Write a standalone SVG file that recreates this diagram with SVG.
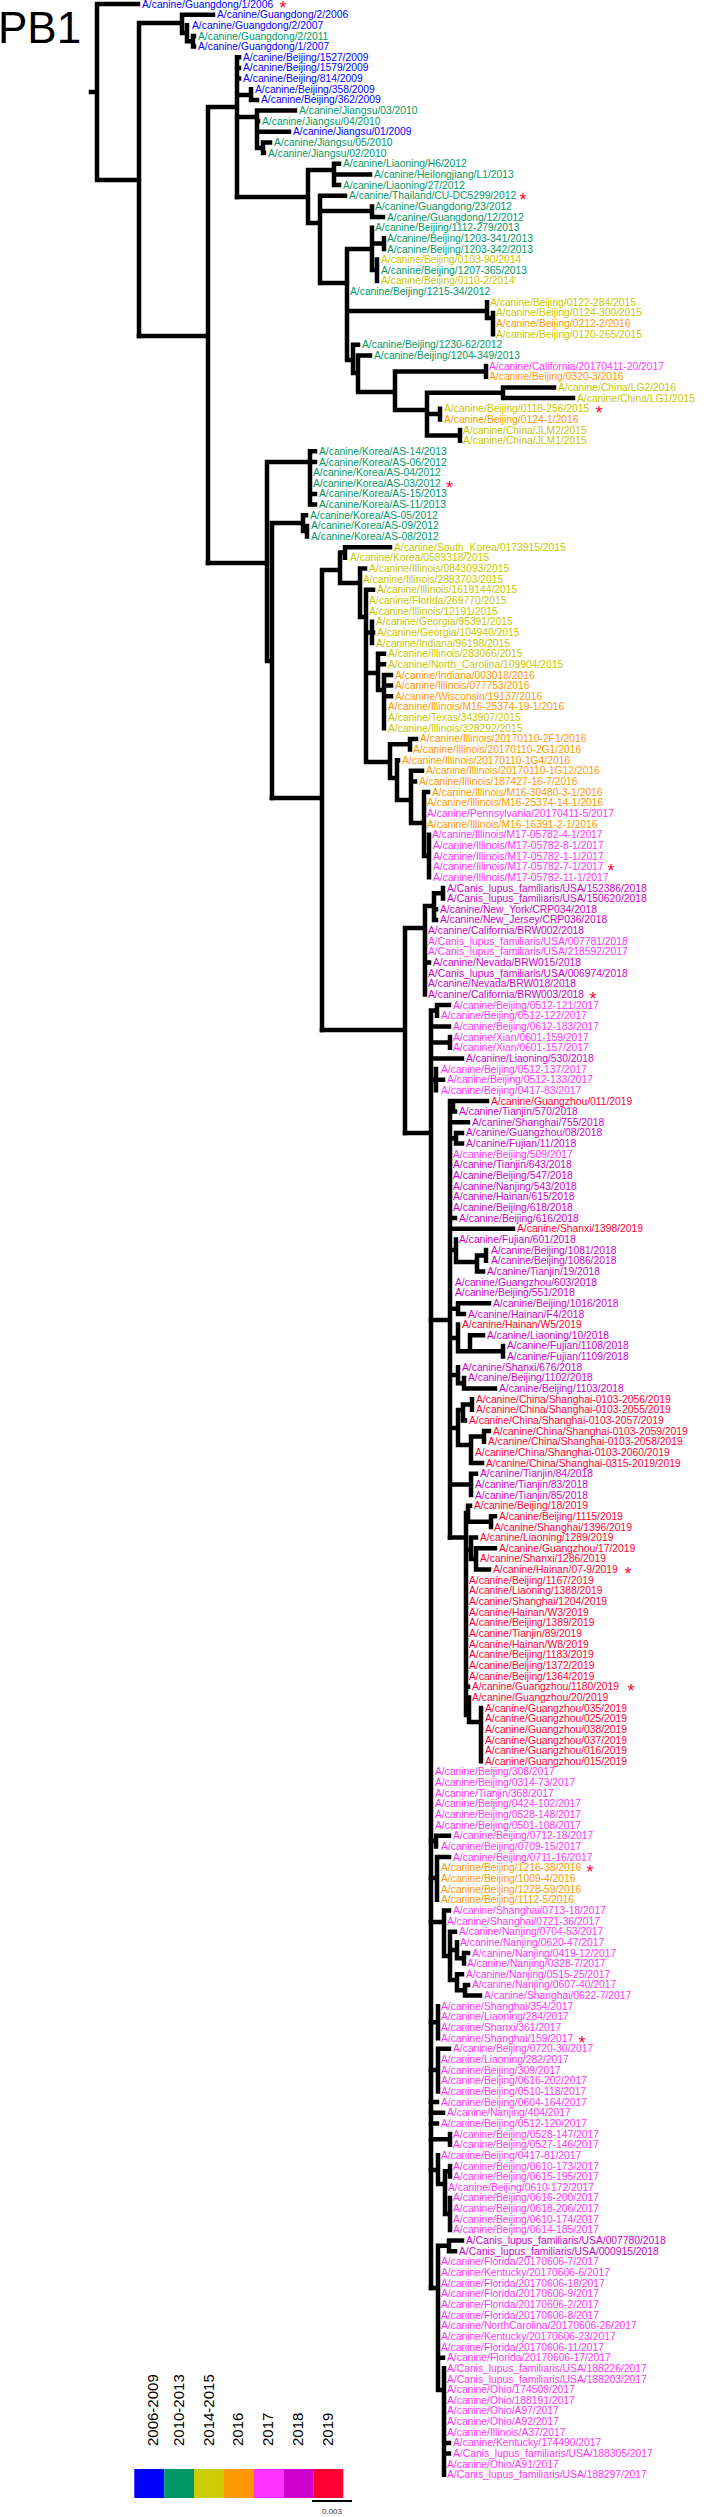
<svg xmlns="http://www.w3.org/2000/svg" width="714" height="2517" viewBox="0 0 714 2517">
<style>
text{font-family:"Liberation Sans",Arial,sans-serif}
.l{font-size:10.3px;dominant-baseline:central}
.c1{fill:#0000ff}.c2{fill:#009966}.c3{fill:#c8c800}.c4{fill:#ff9900}.c5{fill:#ff33ff}.c6{fill:#cc00cc}.c7{fill:#ff0033}
.st{font-size:18px;fill:#ff0033;text-anchor:middle}
.lg{font-size:15px;fill:#000}
#branches path{fill:none;stroke:#000;stroke-width:4.5;stroke-linecap:square}
</style>
<rect width="714" height="2517" fill="#fff"/>
<text x="-2" y="43" font-size="44" fill="#000">PB1</text>
<g id="branches">
<path d="M91 92H97M97 4V180M97 4H138M97 180H139M139 23V336M139 23H182M182 14.7V33M182 14.7H213M182 33H187M187 25.3V41.3M187 41.3H193M193 36V46.6M193 36H194M193 46.6H194"/>
<path d="M139 336H208M208 107V563M208 107H237M237 57.3V197M237 57.3H239M237 67.9H239M237 78.6H239M237 95H251M251 89.2V99.9M251 99.9H257M237 117H257M257 110.5V148M257 110.5H295M257 121.2H258M257 131.8H289M257 148H263M263 142.5V153.1M263 142.5H270M263 153.1H264"/>
<path d="M237 197H308M308 170V223M308 170H334M334 163.8V185.1M334 163.8H339M334 174.4H370M334 185.1H339M308 223H320M320 195.7V283M320 195.7H345M320 211H372M372 206.4V217M372 217H383M320 283H347M347 249V360M347 249H372M372 227.7V270M372 243.6H384M384 238.3V249M372 270H377M377 259.6V280.9M347 311H487M487 302.2V318M487 318H493M493 312.9V334.2M347 360H353M353 344.8V373M353 344.8H358M353 373H358M358 355.5V392M358 355.5H370M358 392H395M395 371.5V410M395 371.5H486M486 366.1V376.8M395 410H427M427 392.8V435.4M427 392.8H503M503 387.4V398.1M503 387.4H554M503 398.1H573M427 414H440M440 408.7V419.4M427 435.4H460M460 430V440.7"/>
<path d="M208 563H267M267 462V661M267 462H310M310 451.3V504.6M310 451.3H315M310 462H315M310 493.9H315M310 504.6H315M267 661H272M272 523V798M272 523H303M303 515.2V531M303 515.2H306M303 531H307M307 525.9V536.5"/>
<path d="M272 798H322M322 570V1030M322 570H340M340 552.5V583M340 552.5H345M345 547.2V557.8M345 547.2H390M340 583H360M360 568.5V617M360 568.5H365M360 617H366M366 589.8V762M366 589.8H373M366 632.4H372M372 621.7V643M372 632.4H373M366 673H378M378 653.7V690M378 653.7H384M378 664.3H384M378 690H384M384 675V728.2M384 675H391M384 685.6H391M384 696.3H391M366 762H390M390 744.2V778M390 744.2H410M410 738.9V749.5M410 738.9H416M390 778H397M397 760.2V800M397 760.2H398M397 800H411M411 770.8V823M411 770.8H422M411 781.5H415M411 823H424M424 792.1V856M424 792.1H428M424 856H429M429 834.7V877.3"/>
<path d="M322 1030H405M405 928V1133M405 928H425M425 906V994.5M425 906H434M434 893.3V919.9M434 893.3H443M443 888V898.6M434 909.3H436M434 919.9H436M425 962.5H429"/>
<path d="M405 1133H431M431 1010.5V2288M431 1010.5H437M437 1005.1V1015.8M437 1005.1H449M431 1026.4H449M431 1042.4H450M450 1037.1V1047.7M431 1058.4H462M431 1079.7H436M436 1069V1090.3M436 1079.7H443"/>
<path d="M431 1320H450M450 1101V1537.6M450 1106.3H453M453 1101V1111.6M453 1101H487M453 1111.6H455M450 1122.3H468M450 1138.3H456M456 1132.9V1143.6M456 1132.9H462M456 1143.6H462M450 1218.1H455M450 1228.8H513M450 1250H456M456 1239.4V1262M456 1262H477M477 1255.4V1271.4M477 1255.4H486M486 1250.1V1260.7M477 1271.4H483M450 1308.7H458M458 1303.3V1314M458 1303.3H489M458 1314H464M450 1338H458M458 1324.6V1351.3M458 1351.3H470M470 1335.3V1351.3M470 1335.3H483M470 1351.3H503M503 1345.9V1356.6M450 1375H458M458 1367.2V1383.2M458 1383.2H464M464 1377.9V1388.5M464 1388.5H495M450 1428H458M458 1410V1445M458 1410H463M463 1404.5V1420.5M463 1404.5H472M472 1399.2V1409.8M463 1420.5H465M458 1445H471M471 1436.5V1463.1M471 1436.5H484M484 1431.1V1441.8M484 1431.1H489M471 1463.1H482M450 1484.4H471M471 1473.7V1495M471 1473.7H476"/>
<path d="M450 1537.6H466M466 1513V1715M466 1513H468M468 1505.7V1521.7M468 1505.7H470M468 1521.7H491M491 1516.3V1527M491 1516.3H495M466 1550H471M471 1537.6V1559M471 1537.6H476M471 1559H476M476 1548.3V1569.6M476 1548.3H495M476 1569.6H489M466 1686.7H468M466 1715H469M469 1697.4V1722M469 1722H481M481 1708V1761.3"/>
<path d="M431 1841H436M436 1835.8V1846.5M436 1835.8H449M431 1878H437M437 1857.1V1899.7M437 1857.1H449M431 1922H444M444 1910.4V1956M444 1910.4H449M444 1956H450M450 1931.7V1980M450 1931.7H455M450 1950H457M457 1942.3V1958.3M457 1958.3H464M464 1953V1963.6M464 1953H468M450 1980H457M457 1974.3V1990.3M457 1974.3H462M457 1990.3H465M465 1984.9V1995.6M465 1984.9H468M465 1995.6H480M431 2022.2H438M438 2006.2V2038.2M431 2070H438M438 2048.8V2091.4M438 2048.8H449M431 2102.1H437M431 2112.7H443M431 2123.4H437M431 2139.3H450M450 2134V2144.7M431 2170H438M438 2155.3V2184M438 2184H445M445 2171.3V2214M445 2171.3H450M450 2166V2176.6M445 2214H450M450 2197.9V2229.9M431 2288H438M438 2245.8V2390M438 2245.8H449M449 2240.5V2251.2M449 2240.5H462M449 2251.2H455M438 2357.7H443M438 2390H444M444 2368.3V2474.8M444 2442.9H449M444 2453.5H449"/>
</g>
<g id="n1"><text class="l c1" x="142" y="4">A/canine/Guangdong/1/2006</text><text class="st" x="283" y="14.3">*</text></g>
<g id="n2"><text class="l c1" x="217" y="14.7">A/canine/Guangdong/2/2006</text></g>
<g id="n3"><text class="l c1" x="192" y="25.3">A/canine/Guangdong/2/2007</text></g>
<g id="n4"><text class="l c2" x="198" y="36">A/canine/Guangdong/2/2011</text></g>
<g id="n5"><text class="l c1" x="198" y="46.6">A/canine/Guangdong/1/2007</text></g>
<g id="n6"><text class="l c1" x="243" y="57.3">A/canine/Beijing/1527/2009</text></g>
<g id="n7"><text class="l c1" x="243" y="67.9">A/canine/Beijing/1579/2009</text></g>
<g id="n8"><text class="l c1" x="243" y="78.6">A/canine/Beijing/814/2009</text></g>
<g id="n9"><text class="l c1" x="255" y="89.2">A/canine/Beijing/358/2009</text></g>
<g id="n10"><text class="l c1" x="261" y="99.9">A/canine/Beijing/362/2009</text></g>
<g id="n11"><text class="l c2" x="299" y="110.5">A/canine/Jiangsu/03/2010</text></g>
<g id="n12"><text class="l c2" x="262" y="121.2">A/canine/Jiangsu/04/2010</text></g>
<g id="n13"><text class="l c1" x="293" y="131.8">A/canine/Jiangsu/01/2009</text></g>
<g id="n14"><text class="l c2" x="274" y="142.5">A/canine/Jiangsu/05/2010</text></g>
<g id="n15"><text class="l c2" x="268" y="153.1">A/canine/Jiangsu/02/2010</text></g>
<g id="n16"><text class="l c2" x="343" y="163.8">A/canine/Liaoning/H6/2012</text></g>
<g id="n17"><text class="l c2" x="374" y="174.4">A/canine/Heilongjiang/L1/2013</text></g>
<g id="n18"><text class="l c2" x="343" y="185.1">A/canine/Liaoning/27/2012</text></g>
<g id="n19"><text class="l c2" x="349" y="195.7">A/canine/Thailand/CU-DC5299/2012</text><text class="st" x="523" y="206">*</text></g>
<g id="n20"><text class="l c2" x="375" y="206.4">A/canine/Guangdong/23/2012</text></g>
<g id="n21"><text class="l c2" x="387" y="217">A/canine/Guangdong/12/2012</text></g>
<g id="n22"><text class="l c2" x="375" y="227.7">A/canine/Beijing/1112-279/2013</text></g>
<g id="n23"><text class="l c2" x="387" y="238.3">A/canine/Beijing/1203-341/2013</text></g>
<g id="n24"><text class="l c2" x="387" y="249">A/canine/Beijing/1203-342/2013</text></g>
<g id="n25"><text class="l c3" x="381" y="259.6">A/canine/Beijing/0103-90/2014</text></g>
<g id="n26"><text class="l c2" x="381" y="270.3">A/canine/Beijing/1207-365/2013</text></g>
<g id="n27"><text class="l c3" x="381" y="280.9">A/canine/Beijing/0110-2/2014</text></g>
<g id="n28"><text class="l c2" x="350" y="291.6">A/canine/Beijing/1215-34/2012</text></g>
<g id="n29"><text class="l c3" x="490" y="302.2">A/canine/Beijing/0122-284/2015</text></g>
<g id="n30"><text class="l c3" x="496" y="312.9">A/canine/Beijing/0124-300/2015</text></g>
<g id="n31"><text class="l c4" x="496" y="323.5">A/canine/Beijing/0212-2/2016</text></g>
<g id="n32"><text class="l c3" x="496" y="334.2">A/canine/Beijing/0120-265/2015</text></g>
<g id="n33"><text class="l c2" x="362" y="344.8">A/canine/Beijing/1230-62/2012</text></g>
<g id="n34"><text class="l c2" x="374" y="355.5">A/canine/Beijing/1204-349/2013</text></g>
<g id="n35"><text class="l c5" x="489" y="366.1">A/canine/California/20170411-20/2017</text></g>
<g id="n36"><text class="l c4" x="489" y="376.8">A/canine/Beijing/0320-3/2016</text></g>
<g id="n37"><text class="l c3" x="558" y="387.4">A/canine/China/LG2/2016</text></g>
<g id="n38"><text class="l c3" x="577" y="398.1">A/canine/China/LG1/2015</text></g>
<g id="n39"><text class="l c3" x="444" y="408.7">A/canine/Beijing/0118-256/2015</text><text class="st" x="599" y="419">*</text></g>
<g id="n40"><text class="l c4" x="444" y="419.4">A/canine/Beijing/0124-1/2016</text></g>
<g id="n41"><text class="l c3" x="463" y="430">A/canine/China/JLM2/2015</text></g>
<g id="n42"><text class="l c3" x="463" y="440.7">A/canine/China/JLM1/2015</text></g>
<g id="n43"><text class="l c2" x="319" y="451.3">A/canine/Korea/AS-14/2013</text></g>
<g id="n44"><text class="l c2" x="319" y="462">A/canine/Korea/AS-06/2012</text></g>
<g id="n45"><text class="l c2" x="313" y="472.6">A/canine/Korea/AS-04/2012</text></g>
<g id="n46"><text class="l c2" x="313" y="483.3">A/canine/Korea/AS-03/2012</text><text class="st" x="449.5" y="493.6">*</text></g>
<g id="n47"><text class="l c2" x="319" y="493.9">A/canine/Korea/AS-15/2013</text></g>
<g id="n48"><text class="l c2" x="319" y="504.6">A/canine/Korea/AS-11/2013</text></g>
<g id="n49"><text class="l c2" x="310" y="515.2">A/canine/Korea/AS-05/2012</text></g>
<g id="n50"><text class="l c2" x="311" y="525.9">A/canine/Korea/AS-09/2012</text></g>
<g id="n51"><text class="l c2" x="311" y="536.5">A/canine/Korea/AS-08/2012</text></g>
<g id="n52"><text class="l c3" x="394" y="547.2">A/canine/South_Korea/0173915/2015</text></g>
<g id="n53"><text class="l c3" x="350" y="557.8">A/canine/Korea/0589318/2015</text></g>
<g id="n54"><text class="l c3" x="369" y="568.5">A/canine/Illinois/0843093/2015</text></g>
<g id="n55"><text class="l c3" x="363" y="579.1">A/canine/Illinois/2883703/2015</text></g>
<g id="n56"><text class="l c3" x="377" y="589.8">A/canine/Illinois/1619144/2015</text></g>
<g id="n57"><text class="l c3" x="369" y="600.4">A/canine/Florida/269770/2015</text></g>
<g id="n58"><text class="l c3" x="369" y="611.1">A/canine/Illinois/12191/2015</text></g>
<g id="n59"><text class="l c3" x="376" y="621.7">A/canine/Georgia/95391/2015</text></g>
<g id="n60"><text class="l c3" x="377" y="632.4">A/canine/Georgia/104940/2015</text></g>
<g id="n61"><text class="l c3" x="376" y="643">A/canine/Indiana/96198/2015</text></g>
<g id="n62"><text class="l c3" x="388" y="653.7">A/canine/Illinois/283066/2015</text></g>
<g id="n63"><text class="l c3" x="388" y="664.3">A/canine/North_Carolina/109904/2015</text></g>
<g id="n64"><text class="l c4" x="395" y="675">A/canine/Indiana/003018/2016</text></g>
<g id="n65"><text class="l c4" x="395" y="685.6">A/canine/Illinois/077753/2016</text></g>
<g id="n66"><text class="l c4" x="395" y="696.3">A/canine/Wisconsin/19137/2016</text></g>
<g id="n67"><text class="l c4" x="388" y="706.9">A/canine/Illinois/M16-25374-19-1/2016</text></g>
<g id="n68"><text class="l c3" x="388" y="717.6">A/canine/Texas/343907/2015</text></g>
<g id="n69"><text class="l c3" x="388" y="728.2">A/canine/Illinois/328292/2015</text></g>
<g id="n70"><text class="l c4" x="420" y="738.9">A/canine/Illinois/20170110-2F1/2016</text></g>
<g id="n71"><text class="l c4" x="413" y="749.5">A/canine/Illinois/20170110-2G1/2016</text></g>
<g id="n72"><text class="l c4" x="402" y="760.2">A/canine/Illinois/20170110-1G4/2016</text></g>
<g id="n73"><text class="l c4" x="426" y="770.8">A/canine/Illinois/20170110-1G12/2016</text></g>
<g id="n74"><text class="l c4" x="419" y="781.5">A/canine/Illinois/187427-16-7/2016</text></g>
<g id="n75"><text class="l c4" x="432" y="792.1">A/canine/Illinois/M16-30480-3-1/2016</text></g>
<g id="n76"><text class="l c4" x="427" y="802.8">A/canine/Illinois/M16-25374-14-1/2016</text></g>
<g id="n77"><text class="l c5" x="427" y="813.4">A/canine/Pennsylvania/20170411-5/2017</text></g>
<g id="n78"><text class="l c4" x="427" y="824.1">A/canine/Illinois/M16-16391-2-1/2016</text></g>
<g id="n79"><text class="l c5" x="432" y="834.7">A/canine/Illinois/M17-05782-4-1/2017</text></g>
<g id="n80"><text class="l c5" x="433" y="845.4">A/canine/Illinois/M17-05782-8-1/2017</text></g>
<g id="n81"><text class="l c5" x="433" y="856">A/canine/Illinois/M17-05782-1-1/2017</text></g>
<g id="n82"><text class="l c5" x="433" y="866.7">A/canine/Illinois/M17-05782-7-1/2017</text><text class="st" x="611" y="877">*</text></g>
<g id="n83"><text class="l c5" x="433" y="877.3">A/canine/Illinois/M17-05782-11-1/2017</text></g>
<g id="n84"><text class="l c6" x="447" y="888">A/Canis_lupus_familiaris/USA/152386/2018</text></g>
<g id="n85"><text class="l c6" x="447" y="898.6">A/Canis_lupus_familiaris/USA/150620/2018</text></g>
<g id="n86"><text class="l c6" x="440" y="909.3">A/canine/New_York/CRP034/2018</text></g>
<g id="n87"><text class="l c6" x="440" y="919.9">A/canine/New_Jersey/CRP036/2018</text></g>
<g id="n88"><text class="l c6" x="428" y="930.6">A/canine/California/BRW002/2018</text></g>
<g id="n89"><text class="l c5" x="428" y="941.2">A/Canis_lupus_familiaris/USA/007781/2018</text></g>
<g id="n90"><text class="l c5" x="428" y="951.9">A/Canis_lupus_familiaris/USA/218592/2017</text></g>
<g id="n91"><text class="l c6" x="433" y="962.5">A/canine/Nevada/BRW015/2018</text></g>
<g id="n92"><text class="l c6" x="428" y="973.2">A/Canis_lupus_familiaris/USA/006974/2018</text></g>
<g id="n93"><text class="l c6" x="428" y="983.8">A/canine/Nevada/BRW018/2018</text></g>
<g id="n94"><text class="l c6" x="428" y="994.5">A/canine/California/BRW003/2018</text><text class="st" x="593" y="1004.8">*</text></g>
<g id="n95"><text class="l c5" x="453" y="1005.1">A/canine/Beijing/0512-121/2017</text></g>
<g id="n96"><text class="l c5" x="441" y="1015.8">A/canine/Beijing/0512-122/2017</text></g>
<g id="n97"><text class="l c5" x="453" y="1026.4">A/canine/Beijing/0612-183/2017</text></g>
<g id="n98"><text class="l c5" x="453" y="1037.1">A/canine/Xian/0601-159/2017</text></g>
<g id="n99"><text class="l c5" x="453" y="1047.7">A/canine/Xian/0601-157/2017</text></g>
<g id="n100"><text class="l c6" x="466" y="1058.4">A/canine/Liaoning/530/2018</text></g>
<g id="n101"><text class="l c5" x="441" y="1069">A/canine/Beijing/0512-137/2017</text></g>
<g id="n102"><text class="l c5" x="447" y="1079.7">A/canine/Beijing/0512-133/2017</text></g>
<g id="n103"><text class="l c5" x="441" y="1090.3">A/canine/Beijing/0417-83/2017</text></g>
<g id="n104"><text class="l c7" x="491" y="1101">A/canine/Guangzhou/011/2019</text></g>
<g id="n105"><text class="l c6" x="459" y="1111.6">A/canine/Tianjin/570/2018</text></g>
<g id="n106"><text class="l c6" x="472" y="1122.3">A/canine/Shanghai/755/2018</text></g>
<g id="n107"><text class="l c6" x="466" y="1132.9">A/canine/Guangzhou/08/2018</text></g>
<g id="n108"><text class="l c6" x="466" y="1143.6">A/canine/Fujian/11/2018</text></g>
<g id="n109"><text class="l c5" x="453" y="1154.2">A/canine/Beijing/509/2017</text></g>
<g id="n110"><text class="l c6" x="453" y="1164.9">A/canine/Tianjin/643/2018</text></g>
<g id="n111"><text class="l c6" x="453" y="1175.5">A/canine/Beijing/547/2018</text></g>
<g id="n112"><text class="l c6" x="453" y="1186.2">A/canine/Nanjing/543/2018</text></g>
<g id="n113"><text class="l c6" x="453" y="1196.8">A/canine/Hainan/615/2018</text></g>
<g id="n114"><text class="l c6" x="453" y="1207.5">A/canine/Beijing/618/2018</text></g>
<g id="n115"><text class="l c6" x="459" y="1218.1">A/canine/Beijing/616/2018</text></g>
<g id="n116"><text class="l c7" x="517" y="1228.8">A/canine/Shanxi/1398/2019</text></g>
<g id="n117"><text class="l c6" x="459" y="1239.4">A/canine/Fujian/601/2018</text></g>
<g id="n118"><text class="l c6" x="491" y="1250.1">A/canine/Beijing/1081/2018</text></g>
<g id="n119"><text class="l c6" x="491" y="1260.7">A/canine/Beijing/1086/2018</text></g>
<g id="n120"><text class="l c6" x="487" y="1271.4">A/canine/Tianjin/19/2018</text></g>
<g id="n121"><text class="l c6" x="455" y="1282">A/canine/Guangzhou/603/2018</text></g>
<g id="n122"><text class="l c6" x="455" y="1292.7">A/canine/Beijing/551/2018</text></g>
<g id="n123"><text class="l c6" x="493" y="1303.3">A/canine/Beijing/1016/2018</text></g>
<g id="n124"><text class="l c6" x="468" y="1314">A/canine/Hainan/F4/2018</text></g>
<g id="n125"><text class="l c7" x="462" y="1324.6">A/canine/Hainan/W5/2019</text></g>
<g id="n126"><text class="l c6" x="487" y="1335.3">A/canine/Liaoning/10/2018</text></g>
<g id="n127"><text class="l c6" x="507" y="1345.9">A/canine/Fujian/1108/2018</text></g>
<g id="n128"><text class="l c6" x="507" y="1356.6">A/canine/Fujian/1109/2018</text></g>
<g id="n129"><text class="l c6" x="462" y="1367.2">A/canine/Shanxi/676/2018</text></g>
<g id="n130"><text class="l c6" x="468" y="1377.9">A/canine/Beijing/1102/2018</text></g>
<g id="n131"><text class="l c6" x="499" y="1388.5">A/canine/Beijing/1103/2018</text></g>
<g id="n132"><text class="l c7" x="476" y="1399.2">A/canine/China/Shanghai-0103-2056/2019</text></g>
<g id="n133"><text class="l c7" x="476" y="1409.8">A/canine/China/Shanghai-0103-2055/2019</text></g>
<g id="n134"><text class="l c7" x="469" y="1420.5">A/canine/China/Shanghai-0103-2057/2019</text></g>
<g id="n135"><text class="l c7" x="493" y="1431.1">A/canine/China/Shanghai-0103-2059/2019</text></g>
<g id="n136"><text class="l c7" x="488" y="1441.8">A/canine/China/Shanghai-0103-2058/2019</text></g>
<g id="n137"><text class="l c7" x="475" y="1452.4">A/canine/China/Shanghai-0103-2060/2019</text></g>
<g id="n138"><text class="l c7" x="486" y="1463.1">A/canine/China/Shanghai-0315-2019/2019</text></g>
<g id="n139"><text class="l c6" x="480" y="1473.7">A/canine/Tianjin/84/2018</text></g>
<g id="n140"><text class="l c6" x="475" y="1484.4">A/canine/Tianjin/83/2018</text></g>
<g id="n141"><text class="l c6" x="475" y="1495">A/canine/Tianjin/85/2018</text></g>
<g id="n142"><text class="l c7" x="474" y="1505.7">A/canine/Beijing/18/2019</text></g>
<g id="n143"><text class="l c7" x="499" y="1516.3">A/canine/Beijing/1115/2019</text></g>
<g id="n144"><text class="l c7" x="494" y="1527">A/canine/Shanghai/1396/2019</text></g>
<g id="n145"><text class="l c7" x="480" y="1537.6">A/canine/Liaoning/1289/2019</text></g>
<g id="n146"><text class="l c7" x="499" y="1548.3">A/canine/Guangzhou/17/2019</text></g>
<g id="n147"><text class="l c7" x="480" y="1558.9">A/canine/Shanxi/1286/2019</text></g>
<g id="n148"><text class="l c7" x="493" y="1569.6">A/canine/Hainan/07-9/2019</text><text class="st" x="628" y="1579.9">*</text></g>
<g id="n149"><text class="l c7" x="469" y="1580.2">A/canine/Beijing/1167/2019</text></g>
<g id="n150"><text class="l c7" x="469" y="1590.9">A/canine/Liaoning/1388/2019</text></g>
<g id="n151"><text class="l c7" x="469" y="1601.5">A/canine/Shanghai/1204/2019</text></g>
<g id="n152"><text class="l c7" x="469" y="1612.2">A/canine/Hainan/W3/2019</text></g>
<g id="n153"><text class="l c7" x="469" y="1622.8">A/canine/Beijing/1389/2019</text></g>
<g id="n154"><text class="l c7" x="469" y="1633.5">A/canine/Tianjin/89/2019</text></g>
<g id="n155"><text class="l c7" x="469" y="1644.1">A/canine/Hainan/W8/2019</text></g>
<g id="n156"><text class="l c7" x="469" y="1654.8">A/canine/Beijing/1183/2019</text></g>
<g id="n157"><text class="l c7" x="469" y="1665.4">A/canine/Beijing/1372/2019</text></g>
<g id="n158"><text class="l c7" x="469" y="1676.1">A/canine/Beijing/1364/2019</text></g>
<g id="n159"><text class="l c7" x="472" y="1686.7">A/canine/Guangzhou/1180/2019</text><text class="st" x="631" y="1697">*</text></g>
<g id="n160"><text class="l c7" x="472" y="1697.4">A/canine/Guangzhou/20/2019</text></g>
<g id="n161"><text class="l c7" x="485" y="1708">A/canine/Guangzhou/035/2019</text></g>
<g id="n162"><text class="l c7" x="485" y="1718.7">A/canine/Guangzhou/025/2019</text></g>
<g id="n163"><text class="l c7" x="485" y="1729.3">A/canine/Guangzhou/038/2019</text></g>
<g id="n164"><text class="l c7" x="485" y="1740">A/canine/Guangzhou/037/2019</text></g>
<g id="n165"><text class="l c7" x="485" y="1750.6">A/canine/Guangzhou/016/2019</text></g>
<g id="n166"><text class="l c7" x="485" y="1761.3">A/canine/Guangzhou/015/2019</text></g>
<g id="n167"><text class="l c5" x="435" y="1771.9">A/canine/Beijing/308/2017</text></g>
<g id="n168"><text class="l c5" x="435" y="1782.6">A/canine/Beijing/0314-73/2017</text></g>
<g id="n169"><text class="l c5" x="435" y="1793.2">A/canine/Tianjin/368/2017</text></g>
<g id="n170"><text class="l c5" x="435" y="1803.9">A/canine/Beijing/0424-102/2017</text></g>
<g id="n171"><text class="l c5" x="435" y="1814.5">A/canine/Beijing/0528-148/2017</text></g>
<g id="n172"><text class="l c5" x="435" y="1825.2">A/canine/Beijing/0501-108/2017</text></g>
<g id="n173"><text class="l c5" x="453" y="1835.8">A/canine/Beijing/0712-18/2017</text></g>
<g id="n174"><text class="l c5" x="441" y="1846.5">A/canine/Beijing/0709-15/2017</text></g>
<g id="n175"><text class="l c5" x="453" y="1857.1">A/canine/Beijing/0711-16/2017</text></g>
<g id="n176"><text class="l c4" x="441" y="1867.8">A/canine/Beijing/1216-38/2016</text><text class="st" x="590" y="1878.1">*</text></g>
<g id="n177"><text class="l c4" x="441" y="1878.4">A/canine/Beijing/1009-4/2016</text></g>
<g id="n178"><text class="l c4" x="441" y="1889.1">A/canine/Beijing/1228-59/2016</text></g>
<g id="n179"><text class="l c4" x="441" y="1899.7">A/canine/Beijing/1112-5/2016</text></g>
<g id="n180"><text class="l c5" x="453" y="1910.4">A/canine/Shanghai/0713-18/2017</text></g>
<g id="n181"><text class="l c5" x="447" y="1921">A/canine/Shanghai/0721-36/2017</text></g>
<g id="n182"><text class="l c5" x="459" y="1931.7">A/canine/Nanjing/0704-53/2017</text></g>
<g id="n183"><text class="l c5" x="460" y="1942.3">A/canine/Nanjing/0620-47/2017</text></g>
<g id="n184"><text class="l c5" x="472" y="1953">A/canine/Nanjing/0419-12/2017</text></g>
<g id="n185"><text class="l c5" x="467" y="1963.6">A/canine/Nanjing/0328-7/2017</text></g>
<g id="n186"><text class="l c5" x="466" y="1974.3">A/canine/Nanjing/0515-25/2017</text></g>
<g id="n187"><text class="l c5" x="472" y="1984.9">A/canine/Nanjing/0607-40/2017</text></g>
<g id="n188"><text class="l c5" x="484" y="1995.6">A/canine/Shanghai/0622-7/2017</text></g>
<g id="n189"><text class="l c5" x="441" y="2006.2">A/canine/Shanghai/354/2017</text></g>
<g id="n190"><text class="l c5" x="441" y="2016.9">A/canine/Liaoning/284/2017</text></g>
<g id="n191"><text class="l c5" x="441" y="2027.5">A/canine/Shanxi/361/2017</text></g>
<g id="n192"><text class="l c5" x="441" y="2038.2">A/canine/Shanghai/159/2017</text><text class="st" x="582" y="2048.5">*</text></g>
<g id="n193"><text class="l c5" x="453" y="2048.8">A/canine/Beijing/0720-30/2017</text></g>
<g id="n194"><text class="l c5" x="441" y="2059.5">A/canine/Liaoning/282/2017</text></g>
<g id="n195"><text class="l c5" x="441" y="2070.1">A/canine/Beijing/309/2017</text></g>
<g id="n196"><text class="l c5" x="441" y="2080.8">A/canine/Beijing/0616-202/2017</text></g>
<g id="n197"><text class="l c5" x="441" y="2091.4">A/canine/Beijing/0510-118/2017</text></g>
<g id="n198"><text class="l c5" x="441" y="2102.1">A/canine/Beijing/0604-164/2017</text></g>
<g id="n199"><text class="l c5" x="447" y="2112.7">A/canine/Nanjing/404/2017</text></g>
<g id="n200"><text class="l c5" x="441" y="2123.4">A/canine/Beijing/0512-120/2017</text></g>
<g id="n201"><text class="l c5" x="453" y="2134">A/canine/Beijing/0528-147/2017</text></g>
<g id="n202"><text class="l c5" x="453" y="2144.7">A/canine/Beijing/0527-146/2017</text></g>
<g id="n203"><text class="l c5" x="441" y="2155.3">A/canine/Beijing/0417-81/2017</text></g>
<g id="n204"><text class="l c5" x="453" y="2166">A/canine/Beijing/0610-173/2017</text></g>
<g id="n205"><text class="l c5" x="453" y="2176.6">A/canine/Beijing/0615-195/2017</text></g>
<g id="n206"><text class="l c5" x="448" y="2187.3">A/canine/Beijing/0610-172/2017</text></g>
<g id="n207"><text class="l c5" x="453" y="2197.9">A/canine/Beijing/0616-200/2017</text></g>
<g id="n208"><text class="l c5" x="453" y="2208.6">A/canine/Beijing/0618-206/2017</text></g>
<g id="n209"><text class="l c5" x="453" y="2219.2">A/canine/Beijing/0610-174/2017</text></g>
<g id="n210"><text class="l c5" x="453" y="2229.9">A/canine/Beijing/0614-185/2017</text></g>
<g id="n211"><text class="l c6" x="466" y="2240.5">A/Canis_lupus_familiaris/USA/007780/2018</text></g>
<g id="n212"><text class="l c6" x="459" y="2251.2">A/Canis_lupus_familiaris/USA/000915/2018</text></g>
<g id="n213"><text class="l c5" x="441" y="2261.8">A/canine/Florida/20170606-7/2017</text></g>
<g id="n214"><text class="l c5" x="441" y="2272.5">A/canine/Kentucky/20170606-6/2017</text></g>
<g id="n215"><text class="l c5" x="441" y="2283.1">A/canine/Florida/20170606-18/2017</text></g>
<g id="n216"><text class="l c5" x="441" y="2293.8">A/canine/Florida/20170606-9/2017</text></g>
<g id="n217"><text class="l c5" x="441" y="2304.4">A/canine/Florida/20170606-2/2017</text></g>
<g id="n218"><text class="l c5" x="441" y="2315.1">A/canine/Florida/20170606-8/2017</text></g>
<g id="n219"><text class="l c5" x="441" y="2325.7">A/canine/NorthCarolina/20170606-26/2017</text></g>
<g id="n220"><text class="l c5" x="441" y="2336.4">A/canine/Kentucky/20170606-23/2017</text></g>
<g id="n221"><text class="l c5" x="441" y="2347">A/canine/Florida/20170606-11/2017</text></g>
<g id="n222"><text class="l c5" x="447" y="2357.7">A/canine/Florida/20170606-17/2017</text></g>
<g id="n223"><text class="l c5" x="447" y="2368.3">A/Canis_lupus_familiaris/USA/188226/2017</text></g>
<g id="n224"><text class="l c5" x="447" y="2379">A/Canis_lupus_familiaris/USA/188203/2017</text></g>
<g id="n225"><text class="l c5" x="447" y="2389.6">A/canine/Ohio/174509/2017</text></g>
<g id="n226"><text class="l c5" x="447" y="2400.3">A/canine/Ohio/188191/2017</text></g>
<g id="n227"><text class="l c5" x="447" y="2410.9">A/canine/Ohio/A97/2017</text></g>
<g id="n228"><text class="l c5" x="447" y="2421.6">A/canine/Ohio/A92/2017</text></g>
<g id="n229"><text class="l c5" x="447" y="2432.2">A/canine/Illinois/A37/2017</text></g>
<g id="n230"><text class="l c5" x="453" y="2442.9">A/canine/Kentucky/174490/2017</text></g>
<g id="n231"><text class="l c5" x="453" y="2453.5">A/Canis_lupus_familiaris/USA/188305/2017</text></g>
<g id="n232"><text class="l c5" x="447" y="2464.2">A/canine/Ohio/A91/2017</text></g>
<g id="n233"><text class="l c5" x="447" y="2474.8">A/Canis_lupus_familiaris/USA/188297/2017</text></g>
<g id="legend">
<rect x="134.3" y="2469" width="30" height="29" fill="#0000ff"/>
<rect x="164.2" y="2469" width="30" height="29" fill="#009966"/>
<rect x="194" y="2469" width="30" height="29" fill="#cccc00"/>
<rect x="223.9" y="2469" width="30" height="29" fill="#ff9900"/>
<rect x="253.7" y="2469" width="30" height="29" fill="#ff33ff"/>
<rect x="283.6" y="2469" width="30" height="29" fill="#cc00cc"/>
<rect x="313.4" y="2469" width="29.9" height="29" fill="#ff0033"/>
<text class="lg" transform="translate(158 2446) rotate(-90)">2006-2009</text>
<text class="lg" transform="translate(184.3 2446) rotate(-90)">2010-2013</text>
<text class="lg" transform="translate(214.3 2446) rotate(-90)">2014-2015</text>
<text class="lg" transform="translate(243.3 2446) rotate(-90)">2016</text>
<text class="lg" transform="translate(273.3 2446) rotate(-90)">2017</text>
<text class="lg" transform="translate(302.7 2446) rotate(-90)">2018</text>
<text class="lg" transform="translate(332.7 2446) rotate(-90)">2019</text>
</g>
<g id="scale">
<path d="M312 2501H352" stroke="#000" stroke-width="2"/>
<text x="332" y="2514" font-size="8" fill="#333" text-anchor="middle">0.003</text>
</g>
</svg>
